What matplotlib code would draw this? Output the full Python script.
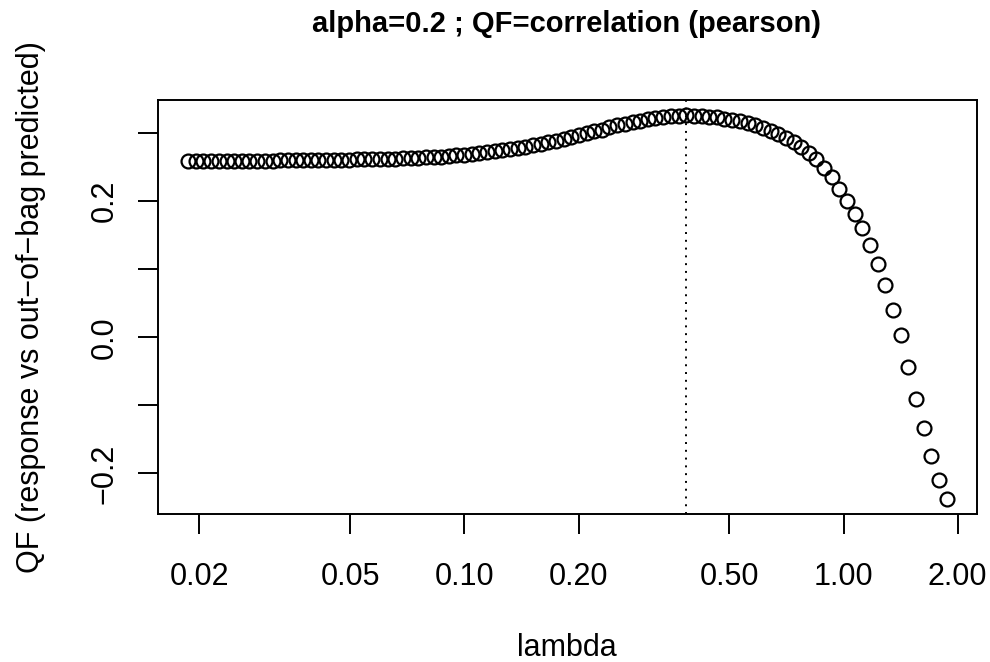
import matplotlib
matplotlib.use('Agg')
import matplotlib.pyplot as plt
import numpy as np

plt.rcParams['font.family'] = ['Liberation Sans', 'DejaVu Sans']

# lambda path (glmnet order, largest first) and the out-of-bag correlation for each
lam = [1.870, 1.785, 1.704, 1.627, 1.553, 1.482, 1.415, 1.350, 1.289, 1.230,
       1.174, 1.121, 1.070, 1.021, 0.975, 0.931, 0.888, 0.848, 0.809, 0.773,
       0.738, 0.704, 0.672, 0.642, 0.612, 0.585, 0.558, 0.533, 0.508, 0.485,
       0.463, 0.442, 0.422, 0.403, 0.385, 0.367, 0.350, 0.334, 0.319, 0.305,
       0.291, 0.278, 0.265, 0.253, 0.241, 0.230, 0.220, 0.210, 0.200, 0.191,
       0.1827, 0.1744, 0.1665, 0.1589, 0.1517, 0.1448, 0.1382, 0.1319, 0.1259, 0.1202,
       0.1147, 0.1095, 0.1045, 0.0998, 0.0952, 0.0909, 0.0868, 0.0829, 0.0791, 0.0755,
       0.0721, 0.0688, 0.0657, 0.0627, 0.0598, 0.0571, 0.0545, 0.0520, 0.0497, 0.0474,
       0.0453, 0.0432, 0.0412, 0.0394, 0.0376, 0.0359, 0.0342, 0.0327, 0.0312, 0.0298,
       0.0284, 0.0271, 0.0259, 0.0247, 0.0236, 0.0225, 0.0215, 0.0205, 0.0196, 0.0187]

qf = [-0.237, -0.210, -0.175, -0.133, -0.091, -0.043, 0.003, 0.040, 0.077, 0.108,
      0.136, 0.160, 0.181, 0.200, 0.218, 0.235, 0.249, 0.261, 0.271, 0.280,
      0.287, 0.293, 0.298, 0.303, 0.307, 0.311, 0.314, 0.317, 0.319, 0.321,
      0.323, 0.324, 0.325, 0.3255, 0.3258, 0.3252, 0.3245, 0.323, 0.322, 0.320,
      0.318, 0.316, 0.313, 0.311, 0.308, 0.305, 0.303, 0.300, 0.297, 0.294,
      0.291, 0.288, 0.286, 0.284, 0.282, 0.280, 0.278, 0.276, 0.275, 0.273,
      0.272, 0.270, 0.269, 0.268, 0.267, 0.266, 0.265, 0.2645, 0.264, 0.2635,
      0.263, 0.2627, 0.2624, 0.2621, 0.2618, 0.2615, 0.2612, 0.2610, 0.2608, 0.2606,
      0.2604, 0.2602, 0.2600, 0.2599, 0.2598, 0.2597, 0.2596, 0.2595, 0.2594, 0.2593,
      0.2592, 0.2591, 0.2590, 0.2590, 0.2589, 0.2589, 0.2588, 0.2588, 0.2587, 0.2587]

x_ticks = [0.02, 0.05, 0.10, 0.20, 0.50, 1.00, 2.00]
x_labels = ['0.02', '0.05', '0.10', '0.20', '0.50', '1.00', '2.00']
y_ticks = [-0.2, -0.1, 0.0, 0.1, 0.2, 0.3]
y_labels = ['\u22120.2', '', '0.0', '', '0.2', '']

lam = np.array(lam)
qf = np.array(qf)
best = lam[np.argmax(qf)]

W, H = 990, 662
fig = plt.figure(figsize=(W / 100, H / 100), dpi=100)
ax = fig.add_axes([158 / W, 1 - 514 / H, (977 - 158) / W, (514 - 100) / H])

ax.plot(lam, qf, ls='none', marker='o', ms=10, mfc='none', mec='k', mew=1.6)
ax.axvline(best, color='k', lw=1.4, ls=(0, (1, 3)))

ax.set_xscale('log')
# R style axis range: 4% padding on each side
lx = np.log10(lam)
px = 0.04 * (lx.max() - lx.min())
ax.set_xlim(10 ** (lx.min() - px), 10 ** (lx.max() + px))
py = 0.04 * (qf.max() - qf.min())
ax.set_ylim(qf.min() - py, qf.max() + py)

ax.set_xticks(x_ticks)
ax.set_xticklabels(x_labels)
ax.xaxis.set_minor_locator(matplotlib.ticker.NullLocator())
ax.set_yticks(y_ticks)
ax.set_yticklabels(y_labels, rotation=90, va='center')

ax.tick_params(axis='both', direction='out', length=14.4, width=1.4, labelsize=22)
ax.tick_params(axis='x', pad=20.5)
ax.tick_params(axis='y', pad=13)
for s in ax.spines.values():
    s.set_linewidth(1.4)

fig.text(567 / W, 1 - 32 / H, 'alpha=0.2 ; QF=correlation (pearson)', ha='center', va='baseline',
         fontsize=21, fontweight='bold')
fig.text(567 / W, 1 - 656 / H, 'lambda', ha='center', va='baseline', fontsize=22)
fig.text(31 / W, 1 - 307 / H, 'QF (response vs out\u2212of\u2212bag predicted)', rotation=90,
         ha='center', va='center', fontsize=22)

fig.savefig('out.png', dpi=100)
